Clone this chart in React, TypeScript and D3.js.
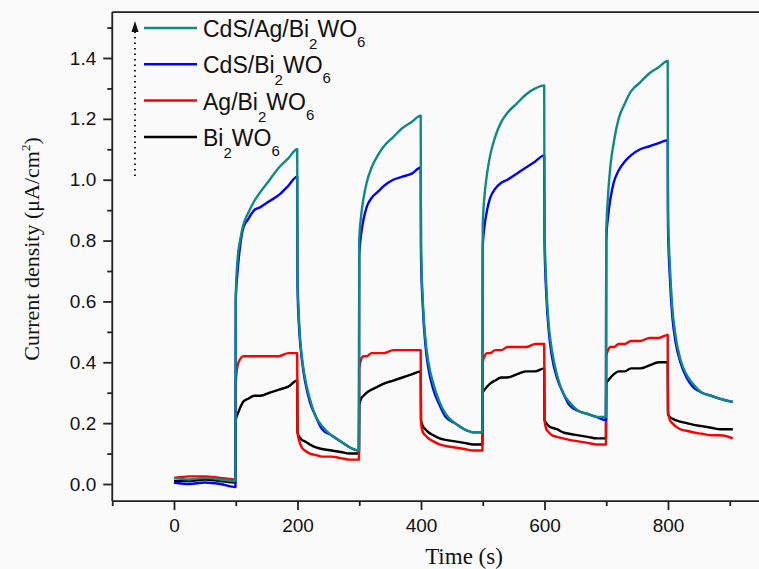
import React, { useEffect, useRef } from "react";
import * as d3 from "d3";

// time samples (s) shared by all four curves
const times = [
  0, 25, 50, 75, 99.5,
  100, 103, 107, 112, 120, 130, 140, 155, 170, 185, 199.5,
  200, 203, 207, 212, 220, 230, 240, 255, 270, 285, 299.5,
  300, 303, 307, 312, 320, 330, 340, 355, 370, 385, 399.5,
  400, 403, 407, 412, 420, 430, 440, 455, 470, 485, 499.5,
  500, 503, 507, 512, 520, 530, 540, 555, 570, 585, 599.5,
  600, 603, 607, 612, 620, 630, 640, 655, 670, 685, 699.5,
  700, 703, 707, 712, 720, 730, 740, 755, 770, 785, 799.5,
  800, 803, 807, 812, 820, 830, 840, 855, 870, 885, 905,
];

const cdsAgBwo = [
  0.02, 0.015, 0.02, 0.015, 0.01,
  0.62, 0.74, 0.8, 0.85, 0.89, 0.93, 0.96, 1.0, 1.04, 1.07, 1.1,
  0.7, 0.52, 0.42, 0.35, 0.28, 0.22, 0.19, 0.16, 0.14, 0.12, 0.11,
  0.8, 0.88, 0.94, 0.99, 1.04, 1.08, 1.11, 1.14, 1.17, 1.19, 1.21,
  0.8, 0.6, 0.48, 0.4, 0.33, 0.27, 0.23, 0.2, 0.18, 0.17, 0.17,
  0.85, 0.95, 1.02, 1.08, 1.14, 1.19, 1.22, 1.25, 1.28, 1.3, 1.31,
  0.85, 0.65, 0.52, 0.44, 0.36, 0.3, 0.27, 0.24, 0.23, 0.22, 0.22,
  0.82, 0.95, 1.05, 1.12, 1.2, 1.25, 1.29, 1.32, 1.35, 1.37, 1.39,
  0.9, 0.72, 0.58, 0.49, 0.41, 0.36, 0.33, 0.3, 0.29, 0.28, 0.27,
];

const cdsBwo = [
  0.005, 0.0, 0.005, 0.0, -0.01,
  0.6, 0.7, 0.78, 0.84, 0.87, 0.9, 0.91, 0.93, 0.95, 0.98, 1.01,
  0.65, 0.5, 0.41, 0.34, 0.27, 0.22, 0.18, 0.16, 0.14, 0.12, 0.11,
  0.75, 0.82, 0.87, 0.91, 0.94, 0.96, 0.98, 1.0, 1.01, 1.02, 1.04,
  0.75, 0.58, 0.46, 0.38, 0.31, 0.26, 0.22, 0.2, 0.18, 0.17, 0.17,
  0.78, 0.85, 0.9, 0.94, 0.97, 0.99, 1.0, 1.02, 1.04, 1.06, 1.08,
  0.8, 0.62, 0.5, 0.42, 0.35, 0.3, 0.26, 0.24, 0.23, 0.22, 0.21,
  0.8, 0.88, 0.94, 0.99, 1.03, 1.06, 1.08, 1.1, 1.11, 1.12, 1.13,
  0.85, 0.68, 0.55, 0.47, 0.4, 0.35, 0.32, 0.3, 0.29, 0.28, 0.27,
];

const agBwo = [
  0.02, 0.025, 0.025, 0.02, 0.015,
  0.33, 0.39, 0.41, 0.42, 0.42, 0.42, 0.42, 0.42, 0.42, 0.43, 0.43,
  0.17, 0.14, 0.12, 0.11, 0.1, 0.095, 0.09, 0.09, 0.085, 0.08, 0.08,
  0.38, 0.41, 0.42, 0.42, 0.43, 0.43, 0.43, 0.44, 0.44, 0.44, 0.44,
  0.2, 0.17, 0.16, 0.15, 0.14, 0.13, 0.125, 0.12, 0.115, 0.11, 0.11,
  0.4, 0.42, 0.43, 0.43, 0.44, 0.44, 0.45, 0.45, 0.45, 0.46, 0.46,
  0.21, 0.18, 0.17, 0.16, 0.155, 0.15, 0.145, 0.14, 0.135, 0.13, 0.13,
  0.42, 0.44, 0.45, 0.45, 0.46, 0.46, 0.47, 0.47, 0.48, 0.48, 0.49,
  0.24, 0.21, 0.2, 0.19, 0.18, 0.175, 0.17, 0.165, 0.16, 0.16, 0.15,
];

const bwo = [
  0.01, 0.01, 0.015, 0.01, 0.005,
  0.21, 0.23, 0.25, 0.27, 0.28, 0.29, 0.29, 0.3, 0.31, 0.32, 0.34,
  0.17, 0.155, 0.145, 0.14, 0.13, 0.12, 0.115, 0.11, 0.105, 0.1, 0.1,
  0.26, 0.28, 0.29, 0.3, 0.31, 0.32, 0.33, 0.34, 0.35, 0.36, 0.37,
  0.21, 0.19, 0.18, 0.17, 0.16, 0.15, 0.145, 0.14, 0.135, 0.13, 0.13,
  0.3, 0.31, 0.32, 0.33, 0.34, 0.35, 0.35, 0.36, 0.37, 0.37, 0.38,
  0.21, 0.2, 0.19, 0.185, 0.18, 0.17, 0.165, 0.16, 0.155, 0.15, 0.15,
  0.33, 0.34, 0.35, 0.36, 0.37, 0.37, 0.38, 0.38, 0.39, 0.4, 0.4,
  0.23, 0.22, 0.215, 0.21, 0.205, 0.2, 0.195, 0.19, 0.185, 0.18, 0.18,
];

// legend order (top to bottom); drawn in reverse so teal ends up on top
const seriesNames = ["CdS/Ag/Bi2WO6", "CdS/Bi2WO6", "Ag/Bi2WO6", "Bi2WO6"];
const seriesColors = ["#0f8a82", "#0000ff", "#ff0000", "#000000"];
const seriesValues = [cdsAgBwo, cdsBwo, agBwo, bwo];

const xMajor = [0, 200, 400, 600, 800];
const xMinor = [-100, 100, 300, 500, 700, 900];
const yMajor = [0, 0.2, 0.4, 0.6, 0.8, 1.0, 1.2, 1.4];
const yMinor = [0.1, 0.3, 0.5, 0.7, 0.9, 1.1, 1.3, 1.5];

const W = 759, H = 569;
const xLim = [-100, 960];
const yLim = [-0.056, 1.551];

export default function App() {
  const ref = useRef<SVGSVGElement>(null);

  useEffect(() => {
    const svg = d3.select(ref.current);
    svg.selectAll("*").remove();

    const x = d3.scaleLinear().domain([0, 800]).range([174, 668]);
    const y = d3.scaleLinear().domain([0, 1.4]).range([484, 58]);
    const sans = "'Liberation Sans', Arial, sans-serif";
    const serif = "'Liberation Serif', 'Times New Roman', serif";

    svg.append("rect").attr("width", W).attr("height", H).attr("fill", "#fafafa");

    svg.append("defs").append("clipPath").attr("id", "plotclip")
      .append("rect")
      .attr("x", x(xLim[0])).attr("y", y(yLim[1]))
      .attr("width", x(xLim[1]) - x(xLim[0]))
      .attr("height", y(yLim[0]) - y(yLim[1]));

    // curves
    const line = d3.line<number>()
      .x((d, i) => x(times[i]))
      .y(d => y(d))
      .curve(d3.curveMonotoneX);
    const curves = svg.append("g").attr("clip-path", "url(#plotclip)");
    for (let k = seriesValues.length - 1; k >= 0; k--) {
      curves.append("path")
        .datum(seriesValues[k])
        .attr("d", line)
        .attr("fill", "none")
        .attr("stroke", seriesColors[k])
        .attr("stroke-width", 2.4)
        .attr("stroke-linejoin", "round");
    }

    // frame (right side runs off the picture)
    const frame = svg.append("g").attr("stroke", "#222").attr("stroke-width", 1.8).attr("fill", "none");
    frame.append("line").attr("x1", x(xLim[0])).attr("x2", x(xLim[1])).attr("y1", y(yLim[1])).attr("y2", y(yLim[1]));
    frame.append("line").attr("x1", x(xLim[0])).attr("x2", x(xLim[1])).attr("y1", y(yLim[0])).attr("y2", y(yLim[0]));
    frame.append("line").attr("x1", x(xLim[0])).attr("x2", x(xLim[0])).attr("y1", y(yLim[1])).attr("y2", y(yLim[0]));

    // x axis
    const xAxis = svg.append("g").attr("transform", `translate(0,${y(yLim[0])})`);
    xAxis.call(d3.axisBottom(x).tickValues(xMajor).tickSize(9).tickPadding(8).tickFormat(d3.format("d")));
    xAxis.append("g").call(d3.axisBottom(x).tickValues(xMinor).tickSize(5).tickFormat(() => ""));
    xAxis.selectAll(".domain").remove();
    xAxis.selectAll("line").attr("stroke", "#222").attr("stroke-width", 1.8);
    xAxis.selectAll("text").attr("font-family", sans).attr("font-size", 19).attr("fill", "#111");

    // y axis
    const yAxis = svg.append("g").attr("transform", `translate(${x(xLim[0])},0)`);
    yAxis.call(d3.axisLeft(y).tickValues(yMajor).tickSize(9).tickPadding(7).tickFormat(d3.format(".1f")));
    yAxis.append("g").call(d3.axisLeft(y).tickValues(yMinor).tickSize(5).tickFormat(() => ""));
    yAxis.selectAll(".domain").remove();
    yAxis.selectAll("line").attr("stroke", "#222").attr("stroke-width", 1.8);
    yAxis.selectAll("text").attr("font-family", sans).attr("font-size", 19).attr("fill", "#111");

    // axis titles
    svg.append("text")
      .attr("x", 464).attr("y", 564)
      .attr("text-anchor", "middle")
      .attr("font-family", serif).attr("font-size", 23).attr("fill", "#111")
      .text("Time (s)");

    const yt = svg.append("text")
      .attr("transform", "translate(39,249) rotate(-90)")
      .attr("text-anchor", "middle")
      .attr("font-family", serif).attr("font-size", 22).attr("fill", "#111");
    yt.append("tspan").text("Current density (\u03bcA/cm");
    yt.append("tspan").attr("font-size", 13).attr("dy", -9).text("2");
    yt.append("tspan").attr("dy", 9).text(")");

    // legend
    const leg = svg.append("g");
    leg.append("line")
      .attr("x1", 135).attr("x2", 135).attr("y1", 176).attr("y2", 30)
      .attr("stroke", "#222").attr("stroke-width", 2).attr("stroke-dasharray", "1.5,4");
    leg.append("path").attr("d", "M131.5,32 L135,21 L138.5,32 Z").attr("fill", "#111");

    const rowY = d3.scaleLinear().domain([0, 1]).range([28, 64.3]);
    seriesNames.forEach((name, i) => {
      const yy = rowY(i);
      leg.append("line")
        .attr("x1", 144).attr("x2", 197).attr("y1", yy).attr("y2", yy)
        .attr("stroke", seriesColors[i]).attr("stroke-width", 2.5);
      const t = leg.append("text")
        .attr("x", 203).attr("y", yy + 9)
        .attr("font-family", sans).attr("font-size", 23).attr("fill", "#111");
      const parts = name.split("Bi2WO6");
      t.append("tspan").text(parts[0] + "Bi");
      t.append("tspan").attr("font-size", 15).attr("dy", 12).text("2");
      t.append("tspan").attr("dy", -12).text("WO");
      t.append("tspan").attr("font-size", 15).attr("dy", 10).text("6");
    });
  }, []);

  return (
    <svg
      ref={ref}
      width={W}
      height={H}
      style={{ position: "absolute", left: 0, top: 0, display: "block" }}
    />
  );
}
